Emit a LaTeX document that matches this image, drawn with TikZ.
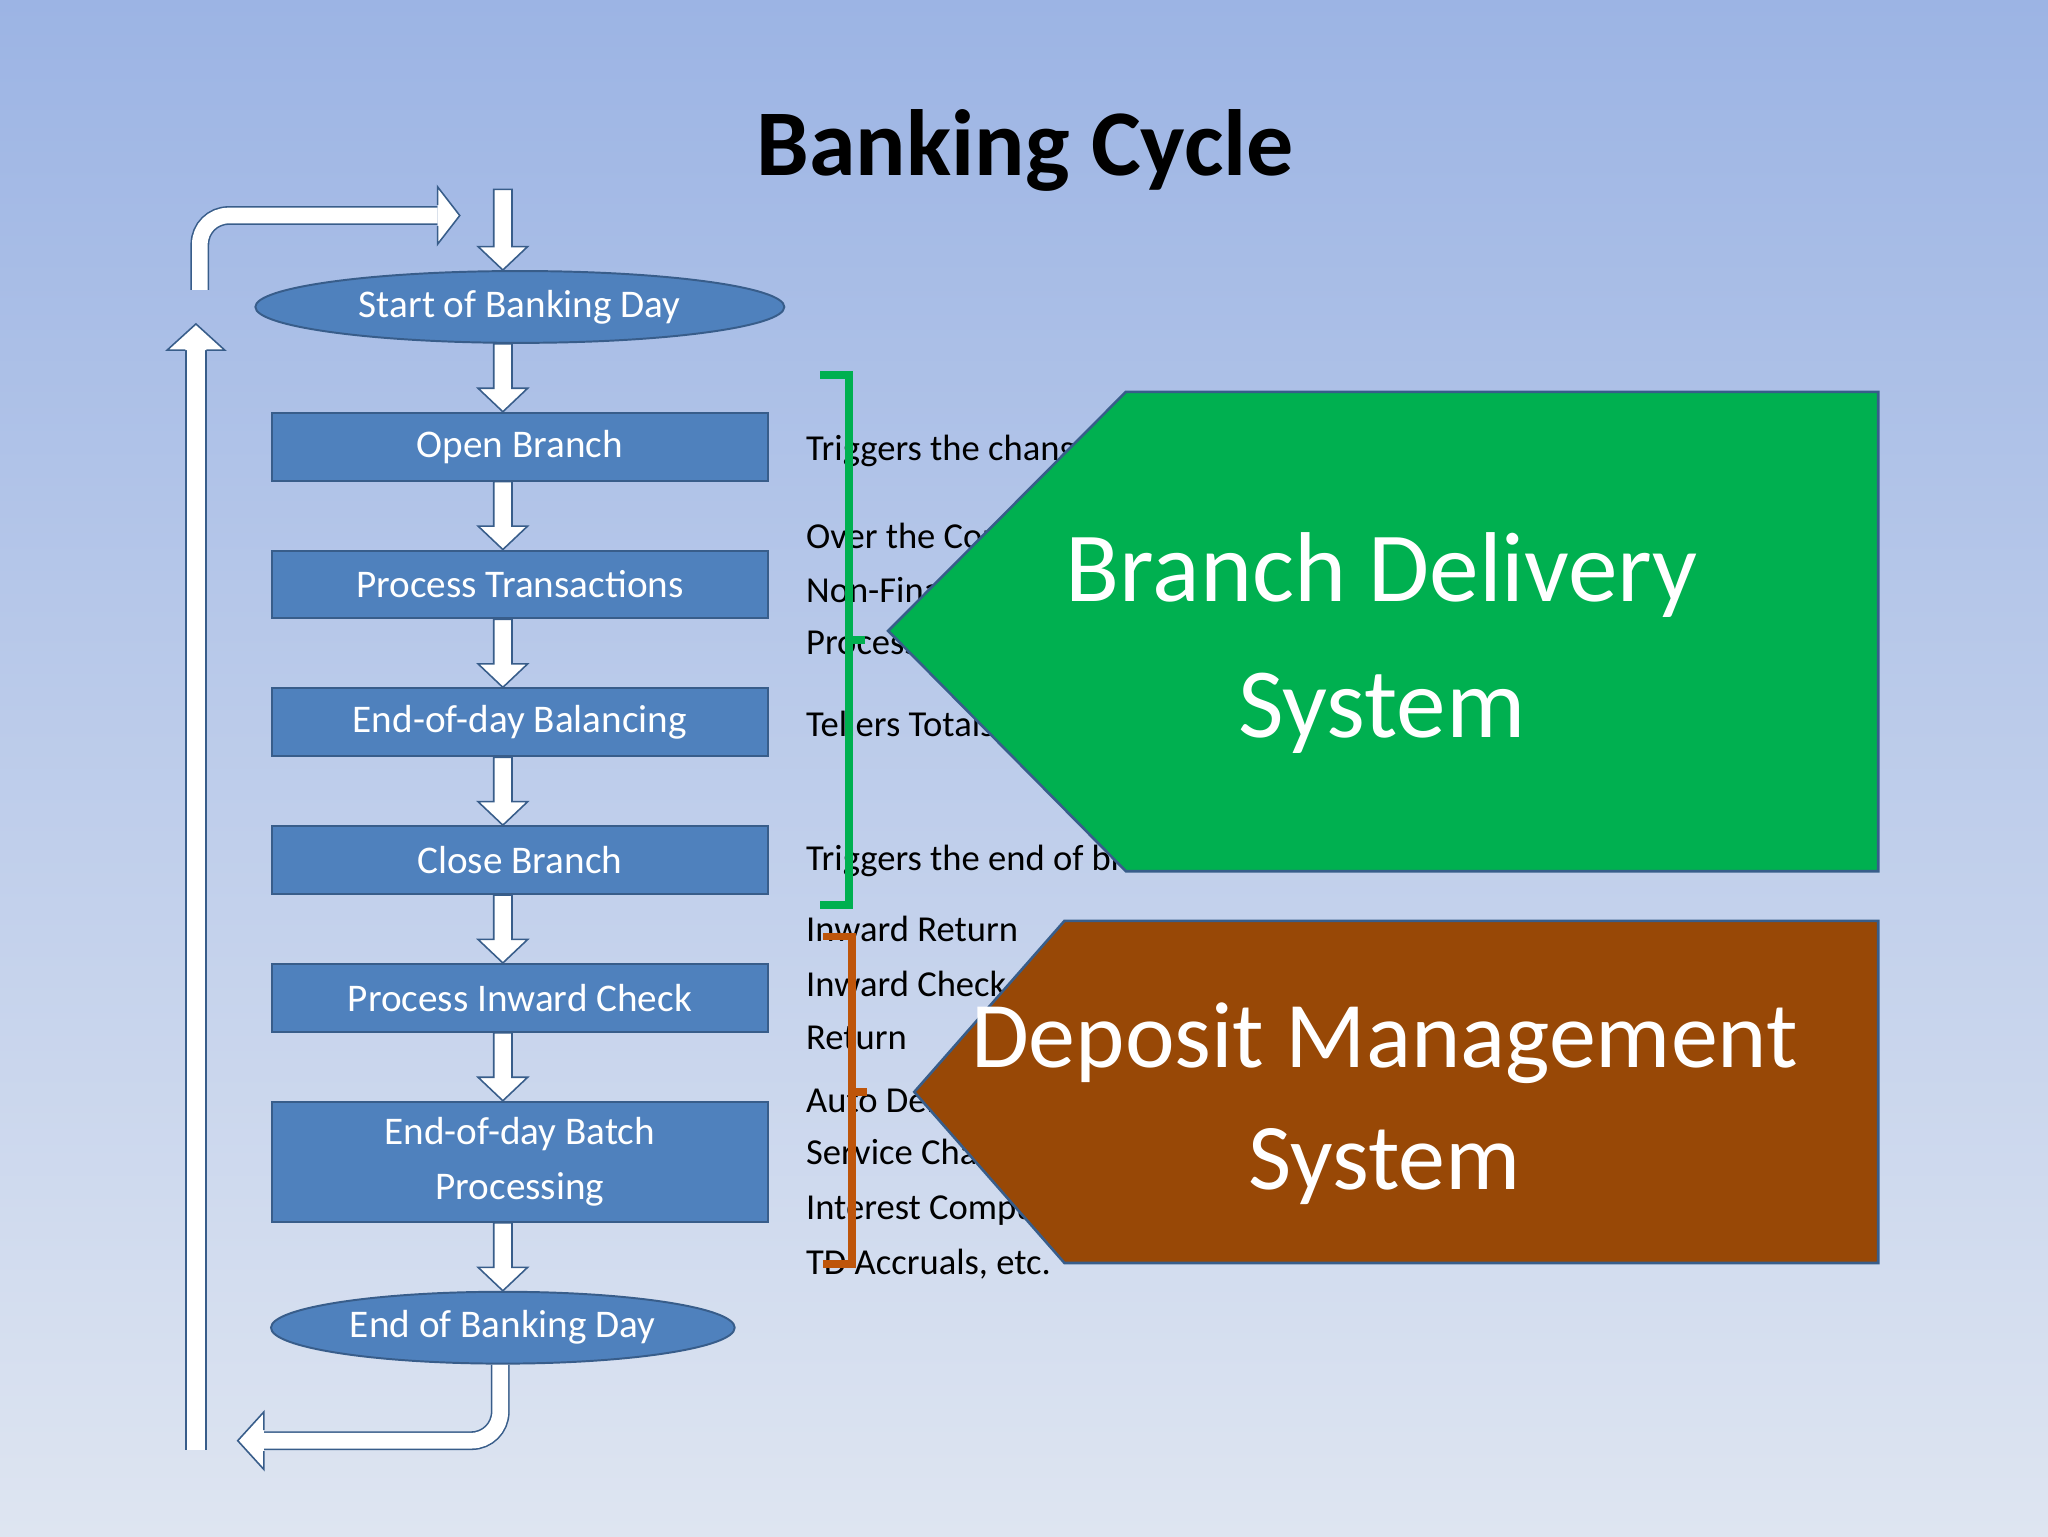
\documentclass[tikz,border=0pt]{standalone}
\usepackage{fontspec}
\setmainfont{Carlito}
\usetikzlibrary{shapes.geometric, positioning, calc}
\definecolor{boxblue}{RGB}{79,129,189}
\definecolor{edgeblue}{RGB}{56,93,138}
\definecolor{bdsgreen}{RGB}{0,176,80}
\definecolor{dmsbrown}{RGB}{152,72,6}
\definecolor{bracketbrown}{RGB}{190,85,10}
\definecolor{bgtop}{RGB}{156,180,228}
\definecolor{bgbottom}{RGB}{222,229,241}

\begin{document}
\begin{tikzpicture}[
  x=1pt, y=-1pt,
  node distance=52pt,
  stage/.style={rectangle, draw=edgeblue, line width=1.5pt, fill=boxblue, text=white,
    minimum width=380pt, minimum height=52pt, inner sep=0pt, align=center,
    font=\fontsize{30}{42}\selectfont},
  day/.style={stage, ellipse},
  hollow/.style={draw=edgeblue, fill=white, line width=1.2pt, line join=miter},
  side/.style={anchor=west, inner sep=0pt, font=\fontsize{28}{34}\selectfont},
  bigtext/.style={text=white, align=center, font=\fontsize{76}{104}\selectfont}
]
\useasboundingbox (0,0) rectangle (1568,1176);
\shade[top color=bgtop, bottom color=bgbottom] (0,0) rectangle (1568,1176);

\node (title) at (785,115) {\fontsize{72}{80}\selectfont\bfseries Banking Cycle};

% flow of the day
\node (start) [day, minimum width=405pt, minimum height=55pt] at (398,235) {Start of Banking Day};
\node (open) [stage, below=of start] {Open Branch};
\node (trans) [stage, below=of open] {Process Transactions};
\node (bal) [stage, below=of trans] {End-of-day Balancing};
\node (close) [stage, below=of bal] {Close Branch};
\node (inward) [stage, below=of close] {Process Inward Check};
\node (batch) [stage, below=of inward, minimum height=92pt] {End-of-day Batch\\Processing};
\node (end) [day, below=of batch, minimum width=355pt, minimum height=55pt, xshift=-13pt] {End of Banking Day};
\coordinate (top) at (385,145);

\foreach \a/\b in {top/start, start/open, open/trans, trans/bal, bal/close, close/inward, inward/batch, batch/end}
  \draw[hollow] let \p1=(\a.south), \p2=(\b.north) in
    (378pt,\y1) -- (378pt,\y2+18pt) -- (366pt,\y2+18pt) -- (385pt,\y2) --
    (404pt,\y2+18pt) -- (392pt,\y2+18pt) -- (392pt,\y1) -- cycle;

% return loop
\coordinate (loopa) at (153,222);
\coordinate (loopb) at (335,165);
\coordinate (loopc) at (150,1110);
\coordinate (loopd) at (150,268);
\coordinate (loope) at (383,1045);
\coordinate (loopf) at (200,1103);
\draw[draw=edgeblue, line width=1.2pt, double=white, double distance=12pt, rounded corners=22pt]
  (loopa) |- (loopb);
\fill[white] (335,143) -- (352,165) -- (335,187) -- cycle;
\draw[edgeblue, line width=1.2pt] (335,157) -- (335,143) -- (352,165) -- (335,187) -- (335,173);
\draw[draw=edgeblue, line width=1.2pt, double=white, double distance=14pt] (loopc) -- (loopd);
\fill[white] (128,268) -- (150,248) -- (172,268) -- cycle;
\draw[edgeblue, line width=1.2pt] (142,268) -- (128,268) -- (150,248) -- (172,268) -- (158,268);
\draw[draw=edgeblue, line width=1.2pt, double=white, double distance=12pt, rounded corners=22pt]
  (loope) |- (loopf);
\fill[white] (202,1081) -- (182,1103) -- (202,1125) -- cycle;
\draw[edgeblue, line width=1.2pt] (202,1095) -- (202,1081) -- (182,1103) -- (202,1125) -- (202,1111);

% side notes
\node (n1) [side] at (617,345) {Triggers the change of date};
\node (n2) [side] at (617,410) {Over the Counter Financial and};
\node (n3) [side] at (617,452) {Non-Financial Transaction};
\node (n4) [side] at (617,494) {Processing};
\node (n5) [side] at (617,554) {Tellers Totals};
\node (n6) [side] at (617,659) {Triggers the end of branch transactions};
\node (n7) [side] at (617,711) {Inward Return};
\node (n8) [side] at (617,753) {Inward Check};
\node (n9) [side] at (617,795) {Return};
\node (n10) [side] at (617,842) {Auto Debit};
\node (n11) [side] at (617,884) {Service Charges};
\node (n12) [side] at (617,926) {Interest Computation};
\node (n13) [side] at (617,968) {TD Accruals, etc.};

% brackets
\draw[bdsgreen, line width=6pt] (628,287) -- (650,287) -- (650,693) -- (628,693);
\draw[bdsgreen, line width=6pt] (650,490) -- (662,490);
\draw[bracketbrown, line width=6pt] (630,717) -- (652,717) -- (652,968) -- (630,968);
\draw[bracketbrown, line width=6pt] (652,836) -- (664,836);

% systems
\draw[fill=bdsgreen, draw=edgeblue, line width=2pt] (862,300) -- (1438,300) -- (1438,667) -- (862,667) -- (680,483) -- cycle;
\node (bds) [bigtext] at (1058,492) {Branch Delivery\\System};
\draw[fill=dmsbrown, draw=edgeblue, line width=2pt] (815,705) -- (1438,705) -- (1438,967) -- (815,967) -- (700,836) -- cycle;
\node (dms) [bigtext, font=\fontsize{72}{94}\selectfont] at (1060,845) {Deposit Management\\System};

\end{tikzpicture}
\end{document}
